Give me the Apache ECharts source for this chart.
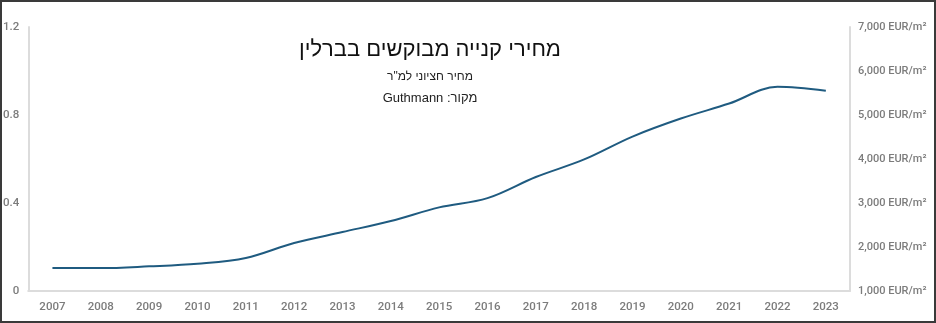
<!DOCTYPE html>
<html>
<head>
<meta charset="utf-8">
<script src="https://cdn.jsdelivr.net/npm/echarts@6/dist/echarts.min.js"></script>
<style>
  html, body { margin: 0; padding: 0; background: #fff; }
  #chart { width: 936px; height: 323px; }
</style>
</head>
<body>
<div id="chart"></div>
<script>
// Asking prices for purchased apartments in Berlin, median EUR per m²
const years = ['2007','2008','2009','2010','2011','2012','2013','2014','2015','2016','2017','2018','2019','2020','2021','2022','2023'];
const pricePerSqm = [1520, 1520, 1560, 1620, 1750, 2090, 2340, 2590, 2900, 3110, 3590, 3990, 4510, 4920, 5260, 5640, 5550];
const leftTicks = { min: 0, max: 1.2, interval: 0.4 };
const rightTicks = { min: 1000, max: 7000, interval: 1000 };

const titleText = 'מחירי קנייה מבוקשים בברלין';
const subtitleText = 'מחיר חציוני למ"ר';
const sourceText = 'מקור: Guthmann';

// wrap mixed Hebrew/Latin strings in a right-to-left embedding
const rtl = s => '\u202B' + s + '\u202C';

const axisGray = '#7c7c7c';
const axisLineColor = '#dcdcdc';
const labelFont = 'Roboto, "DejaVu Sans", sans-serif';
const titleFont = '"Liberation Sans", Arial, sans-serif';

const chart = echarts.init(document.getElementById('chart'), null, { renderer: 'canvas' });
chart.setOption({
  backgroundColor: '#ffffff',
  animation: false,
  grid: { left: 27, right: 86, top: 27, bottom: 32, containLabel: false },
  graphic: [
    { type: 'rect', shape: { x: 1, y: 1, width: 934, height: 321 },
      style: { fill: 'none', stroke: '#3a3a3a', lineWidth: 2 }, silent: true }
  ],
  title: [
    { text: rtl(titleText), left: 425, top: 34, textAlign: 'center',
      textStyle: { fontFamily: titleFont, fontSize: 22, fontWeight: 'normal', color: '#111' } },
    { text: rtl(subtitleText), left: 425, top: 66, textAlign: 'center',
      textStyle: { fontFamily: titleFont, fontSize: 12, fontWeight: 'normal', color: '#222' } },
    { text: rtl(sourceText), left: 425, top: 87, textAlign: 'center',
      textStyle: { fontFamily: titleFont, fontSize: 13, fontWeight: 'normal', color: '#222' } }
  ],
  xAxis: {
    type: 'category',
    data: years,
    boundaryGap: true,
    axisLine: { show: true, lineStyle: { color: axisLineColor, width: 2 } },
    axisTick: { show: false },
    axisLabel: { color: axisGray, fontFamily: labelFont, fontWeight: 500, fontSize: 11.5, margin: 10 },
    splitLine: { show: false }
  },
  yAxis: [
    {
      type: 'value', position: 'left',
      min: leftTicks.min, max: leftTicks.max, interval: leftTicks.interval,
      axisLine: { show: true, lineStyle: { color: axisLineColor, width: 2 } },
      axisTick: { show: false },
      splitLine: { show: false },
      axisLabel: { color: axisGray, fontFamily: labelFont, fontWeight: 500, fontSize: 11.5, margin: 9,
        formatter: v => (v === 0 ? '0' : v.toFixed(1)) }
    },
    {
      type: 'value', position: 'right',
      min: rightTicks.min, max: rightTicks.max, interval: rightTicks.interval,
      axisLine: { show: true, lineStyle: { color: axisLineColor, width: 2 } },
      axisTick: { show: false },
      splitLine: { show: false },
      axisLabel: { color: axisGray, fontFamily: labelFont, fontWeight: 500, fontSize: 11, margin: 8,
        formatter: v => v.toLocaleString('en-US') + ' EUR/m²' }
    }
  ],
  series: [{
    type: 'line',
    yAxisIndex: 1,
    data: pricePerSqm,
    smooth: 0.35,
    symbol: 'none',
    lineStyle: { color: '#1f5b80', width: 2 }
  }]
});
</script>
</body>
</html>
